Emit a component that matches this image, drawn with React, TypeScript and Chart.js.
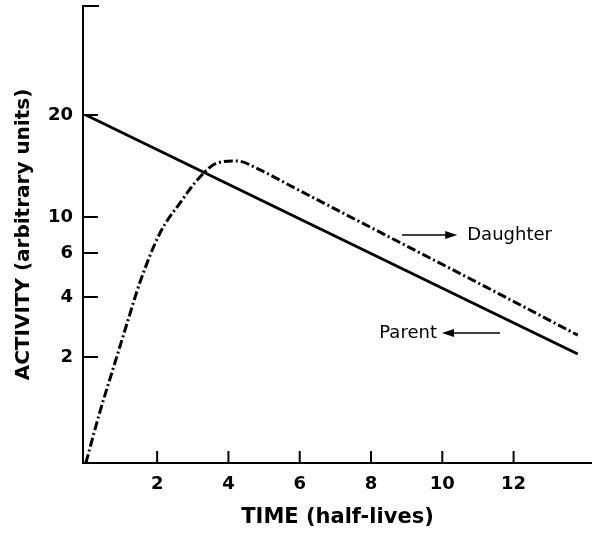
import React, { useEffect, useRef } from 'react';
import { Chart, registerables, LinearScale } from 'chart.js';

// ---- data ----
const timeTicks = [2, 4, 6, 8, 10, 12];
const activityTicks = [2, 4, 6, 10, 20];

const parentTime = [0, 13.8];
const parentActivity = [20, 2.1];

const daughterTime = [0, 0.4, 0.76, 1.15, 1.52, 2.08, 2.64, 3.2, 3.68, 4.24, 4.89, 5.81, 6.93, 8.81, 10.22, 11.62, 13.8];
const daughterActivity = [0, 0.98, 1.77, 3.1, 4.68, 8.22, 11.37, 13.92, 15.29, 15.49, 14.61, 12.93, 10.9, 7.17, 5.3, 4.12, 2.73];

// label anchors in data units [time, activity]
const daughterArrowFrom = [8.87, 8.0];
const daughterArrowTo = [10.42, 8.0];
const daughterTextAt = [10.7, 8.0];
const parentArrowFrom = [11.62, 2.8];
const parentArrowTo = [9.99, 2.8];
const parentTextAt = [9.85, 2.8];

// ---- the figure's (non-uniform) activity axis: value -> fraction of axis height ----
const axisValues = [0, 2, 4, 6, 10, 20, 40];
const axisFractions = [0, 0.2319, 0.3632, 0.4595, 0.5383, 0.7615, 1];

function interp(v: number, xs: number[], ys: number[]) {
  if (v <= xs[0]) return ys[0] + (v - xs[0]) * (ys[1] - ys[0]) / (xs[1] - xs[0]);
  for (let i = 1; i < xs.length; i++) {
    if (v <= xs[i]) {
      return ys[i - 1] + (v - xs[i - 1]) * (ys[i] - ys[i - 1]) / (xs[i] - xs[i - 1]);
    }
  }
  const n = xs.length - 1;
  return ys[n] + (v - xs[n]) * (ys[n] - ys[n - 1]) / (xs[n] - xs[n - 1]);
}

class FigureScale extends LinearScale {
  static id = 'figureScale';
  static defaults = LinearScale.defaults;
  getPixelForValue(value: any) {
    if (value === null || value === undefined || isNaN(value)) return NaN;
    return this.getPixelForDecimal(interp(+value, axisValues, axisFractions));
  }
  getValueForPixel(pixel: number) {
    return interp(this.getDecimalForPixel(pixel), axisFractions, axisValues);
  }
}

Chart.register(...registerables, FigureScale);

const FONT = 'DejaVu Sans';

const decorPlugin = {
  id: 'decor',
  afterDraw(chart: any) {
    const { ctx, chartArea, scales } = chart;
    const x = scales.x;
    const y = scales.y;
    const P = (p: number[]) => [x.getPixelForValue(p[0]), y.getPixelForValue(p[1])];
    ctx.save();
    ctx.strokeStyle = '#000';
    ctx.fillStyle = '#000';
    ctx.lineWidth = 2;
    const line = (x1: number, y1: number, x2: number, y2: number) => {
      ctx.beginPath();
      ctx.moveTo(x1, y1);
      ctx.lineTo(x2, y2);
      ctx.stroke();
    };
    // inward tick marks
    x.ticks.forEach((t: any) => {
      const px = x.getPixelForValue(t.value);
      line(px, chartArea.bottom, px, chartArea.bottom - 12);
    });
    y.ticks.forEach((t: any) => {
      const py = y.getPixelForValue(t.value);
      line(chartArea.left, py, chartArea.left + 15, py);
    });
    line(chartArea.left - 1, chartArea.top, chartArea.left + 16, chartArea.top);

    const arrow = (from: number[], to: number[]) => {
      const [x1, y1] = P(from);
      const [x2, y2] = P(to);
      ctx.lineWidth = 1.5;
      const dir = Math.sign(x2 - x1);
      line(x1, y1, x2 - dir * 8, y2);
      ctx.beginPath();
      ctx.moveTo(x2, y2);
      ctx.lineTo(x2 - dir * 12, y2 - 4);
      ctx.lineTo(x2 - dir * 12, y2 + 4);
      ctx.closePath();
      ctx.fill();
    };
    arrow(daughterArrowFrom, daughterArrowTo);
    arrow(parentArrowFrom, parentArrowTo);

    ctx.font = `18px "${FONT}"`;
    ctx.textBaseline = 'middle';
    let [tx, ty] = P(daughterTextAt);
    ctx.textAlign = 'left';
    ctx.fillText('Daughter', tx, ty);
    [tx, ty] = P(parentTextAt);
    ctx.textAlign = 'right';
    ctx.fillText('Parent', tx, ty);
    ctx.restore();
  },
};

export default function App() {
  const ref = useRef<HTMLCanvasElement>(null);
  useEffect(() => {
    document.body.style.margin = '0';
    const canvas = ref.current;
    if (!canvas) return;
    const chart = new Chart(canvas, {
      type: 'line',
      data: {
        datasets: [
          {
            label: 'Parent',
            data: parentTime.map((t, i) => ({ x: t, y: parentActivity[i] })),
            borderColor: '#000',
            borderWidth: 3,
            pointRadius: 0,
            fill: false,
          },
          {
            label: 'Daughter',
            data: daughterTime.map((t, i) => ({ x: t, y: daughterActivity[i] })),
            borderColor: '#000',
            borderWidth: 3,
            borderDash: [9, 3, 2, 3],
            pointRadius: 0,
            fill: false,
            cubicInterpolationMode: 'monotone',
          },
        ],
      },
      options: {
        animation: false,
        responsive: false,
        layout: { padding: { top: 6, right: 0, left: 0, bottom: 0 } },
        plugins: { legend: { display: false }, tooltip: { enabled: false } },
        scales: {
          x: {
            type: 'linear',
            min: -0.08,
            max: 14.2,
            afterBuildTicks: (s: any) => { s.ticks = timeTicks.map((v) => ({ value: v })); },
            afterFit: (s: any) => { s.height = 72; s.paddingLeft = 0; s.paddingRight = 0; },
            grid: { display: true, drawOnChartArea: false, drawTicks: false },
            border: { display: true, color: '#000', width: 2 },
            ticks: {
              autoSkip: false,
              maxRotation: 0,
              padding: 11,
              color: '#000',
              font: { family: FONT, size: 18, weight: 'bold' },
              callback: (v: any) => String(v),
            },
            title: {
              display: true,
              text: 'TIME (half-lives)',
              color: '#000',
              font: { family: FONT, size: 21, weight: 'bold' },
              padding: { top: 0, bottom: 5 },
            },
          },
          y: {
            type: 'figureScale' as any,
            min: 0,
            max: 40,
            afterBuildTicks: (s: any) => { s.ticks = activityTicks.map((v) => ({ value: v })); },
            afterFit: (s: any) => { s.width = 83; s.paddingTop = 0; s.paddingBottom = 0; },
            grid: { display: true, drawOnChartArea: false, drawTicks: false },
            border: { display: true, color: '#000', width: 2 },
            ticks: {
              autoSkip: false,
              padding: 10,
              color: '#000',
              font: { family: FONT, size: 18, weight: 'bold' },
              callback: (v: any) => String(v),
            },
            title: {
              display: true,
              text: 'ACTIVITY (arbitrary units)',
              color: '#000',
              font: { family: FONT, size: 20, weight: 'bold' },
              padding: { top: 12, bottom: 0 },
            },
          },
        },
      } as any,
      plugins: [decorPlugin],
    });
    return () => chart.destroy();
  }, []);
  return <canvas ref={ref} width={592} height={535} style={{ display: 'block' }} />;
}
